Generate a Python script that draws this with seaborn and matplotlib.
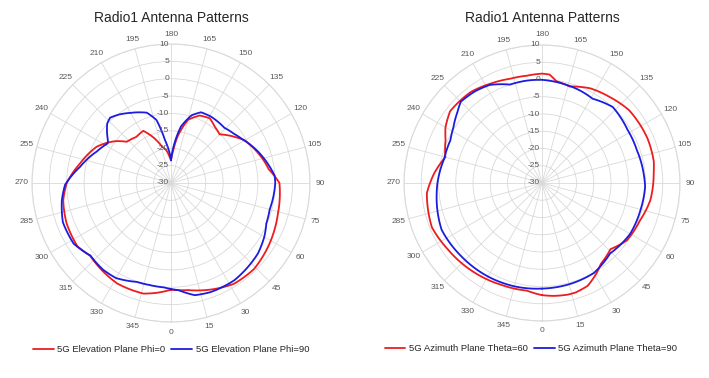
import numpy as np
import pandas as pd
import matplotlib
matplotlib.use("Agg")
import matplotlib.pyplot as plt
import seaborn as sns

# ---------------- data ----------------
angle_ticks = list(range(0, 360, 15))
angle_labels = [str(a) for a in angle_ticks]
r_ticks = [-30, -25, -20, -15, -10, -5, 0, 5, 10]

titles = ["Radio1 Antenna Patterns", "Radio1 Antenna Patterns"]

# Left chart: 5G Elevation Plane
elev_phi0_deg = [0, 9, 21, 32, 44, 57, 74, 90, 98, 104, 109, 120, 126, 135, 142, 149, 157,
                 165, 172, 176, 180, 183, 188, 194, 201, 208, 217, 227, 233, 238, 244, 258,
                 270, 279, 291, 304, 312, 320, 332, 346, 353, 360]
elev_phi0_db = [0.7, 1.2, 2.8, 4.2, 4.4, 3.4, 2.0, 1.2, -1.6, -2.6, -3.5, -5.5, -7.4, -10.2,
                -9.5, -8.3, -8.9, -11.2, -16.5, -20.5, -23.5, -22.5, -20.5, -19.2, -16.0,
                -13.0, -13.4, -12.6, -10.0, -8.2, -6.2, -3.2, 0.0, 1.4, 2.2, 2.5, 1.3, 1.9,
                2.8, 2.8, 1.8, 0.7]

elev_phi90_deg = [0, 4, 12, 20, 33, 51, 60, 67, 75, 82, 90, 94, 110, 122, 128, 136, 149, 157,
                  163, 170, 175, 180, 182, 188, 193, 199, 210, 217, 223, 227, 231, 236, 238,
                  247, 260, 271, 279, 290, 302, 312, 322, 330, 341, 348, 356, 360]
elev_phi90_db = [0.5, 0.9, 3.0, 3.4, 3.4, 2.2, 1.0, -0.2, -0.6, -0.3, 0.0, -0.1, -3.4, -6.0,
                 -7.0, -7.9, -7.7, -7.9, -9.6, -13.5, -18.5, -23.5, -21.9, -17.5, -11.4,
                 -8.6, -6.7, -5.3, -4.3, -4.9, -6.3, -8.1, -8.5, -6.8, -3.4, 0.5, 1.8, 3.1,
                 3.0, 1.2, 1.7, 1.6, 0.1, 0.0, 0.1, 0.5]

# Right chart: 5G Azimuth Plane
azim_t60_deg = [0, 6, 13, 17, 24, 31, 36, 46, 56, 69, 81, 95, 101, 113, 130, 142, 153, 164,
                172, 176, 180, 188, 197, 207, 218, 232, 240, 246, 255, 265, 275, 292, 305,
                323, 338, 352, 360]
azim_t60_db = [2.5, 2.9, 3.2, 3.2, 2.6, 0.6, -1.0, -2.4, -0.3, 0.4, 1.8, 2.5, 3.0, 3.2, 2.9,
               1.7, 0.8, -0.9, -0.2, 1.5, 1.7, 1.4, 1.6, 2.4, 3.5, 3.8, 2.3, 0.6, -1.0, 1.4,
               3.5, 4.4, 3.4, 2.5, 1.8, 1.5, 2.5]

azim_t90_deg = [0, 14, 30, 44, 60, 75, 88, 95, 109, 122, 137, 149, 158, 168, 180, 188, 198,
                208, 216, 225, 230, 238, 245, 256, 270, 276, 295, 312, 330, 345, 360]
azim_t90_db = [0.6, 0.4, 0.1, -1.6, -0.5, -0.4, -0.1, -0.4, -0.9, -0.8, 0.1, -1.5, -1.0,
               -0.6, -0.1, 0.0, 0.0, 2.2, 2.9, 3.3, 2.0, 0.3, -0.7, -0.8, 0.3, 0.7, 2.1,
               1.6, 1.3, 1.0, 0.6]

series_left = [("5G Elevation Plane Phi=0", elev_phi0_deg, elev_phi0_db, "#ee1c1c"),
               ("5G Elevation Plane Phi=90", elev_phi90_deg, elev_phi90_db, "#1c1ce0")]
series_right = [("5G Azimuth Plane Theta=60", azim_t60_deg, azim_t60_db, "#ee1c1c"),
                ("5G Azimuth Plane Theta=90", azim_t90_deg, azim_t90_db, "#1c1ce0")]

# ---------------- style ----------------
sns.set_theme(style="white")
plt.rcParams["font.family"] = ["Liberation Sans", "DejaVu Sans"]

W, H = 709, 378
fig = plt.figure(figsize=(W / 100, H / 100), dpi=100)
fig.patch.set_facecolor("white")

GRID = "#d9d9d9"
TXT = "#595959"


def make_axes(cx, cy, rad):
    return fig.add_axes([(cx - rad) / W, (H - cy - rad) / H, 2 * rad / W, 2 * rad / H],
                        projection="polar")


def draw(ax, series, title, cx, legend_x):
    ax.set_facecolor("white")
    ax.set_theta_zero_location("S")
    ax.set_theta_direction(1)
    for label, deg, db, col in series:
        df = pd.DataFrame({"theta": np.deg2rad(deg), "gain": db})
        sns.lineplot(data=df, x="theta", y="gain", ax=ax, color=col, linewidth=1.3,
                     sort=False, estimator=None, label=label)
    for line in ax.lines:
        line.get_path()._interpolation_steps = 40
    ax.set_ylim(r_ticks[0], r_ticks[-1])
    ax.set_yticks(r_ticks)
    ax.set_yticklabels([])
    ax.set_xticks(np.deg2rad(angle_ticks))
    ax.set_xticklabels([])
    ax.tick_params(axis="both", length=0)
    ax.set_xlabel("")
    ax.set_ylabel("")
    ax.grid(True, color=GRID, linewidth=0.6)
    ax.spines["polar"].set_color(GRID)
    ax.spines["polar"].set_linewidth(0.8)
    # angle labels just outside the outer ring
    for a, lab in zip(angle_ticks, angle_labels):
        phi = np.deg2rad(a - 90)
        ax.annotate(lab, xy=(np.deg2rad(a), r_ticks[-1]),
                    xytext=(7.2 * np.cos(phi), 7.2 * np.sin(phi)),
                    textcoords="offset points", ha="center", va="center",
                    fontsize=6, color=TXT, annotation_clip=False)
    # radial labels along the 180 spoke
    for r in r_ticks:
        ax.annotate(str(r), xy=(np.pi, r), xytext=(-1.5, 0), textcoords="offset points",
                    ha="right", va="center", fontsize=6, color=TXT)
    ax.legend(loc="center", bbox_to_anchor=(legend_x, -0.10), ncol=2, frameon=False,
              fontsize=6.8, handlelength=2.2, handletextpad=0.4, columnspacing=0.6)
    fig.text(cx / W, 1 - 18 / H, title, ha="center", va="center", fontsize=10,
             color="#262626")


axL = make_axes(171, 183, 139)
axR = make_axes(542, 183, 138)
draw(axL, series_left, titles[0], 171, 0.5)
draw(axR, series_right, titles[1], 542, 0.46)

fig.savefig("out.png", dpi=100)
